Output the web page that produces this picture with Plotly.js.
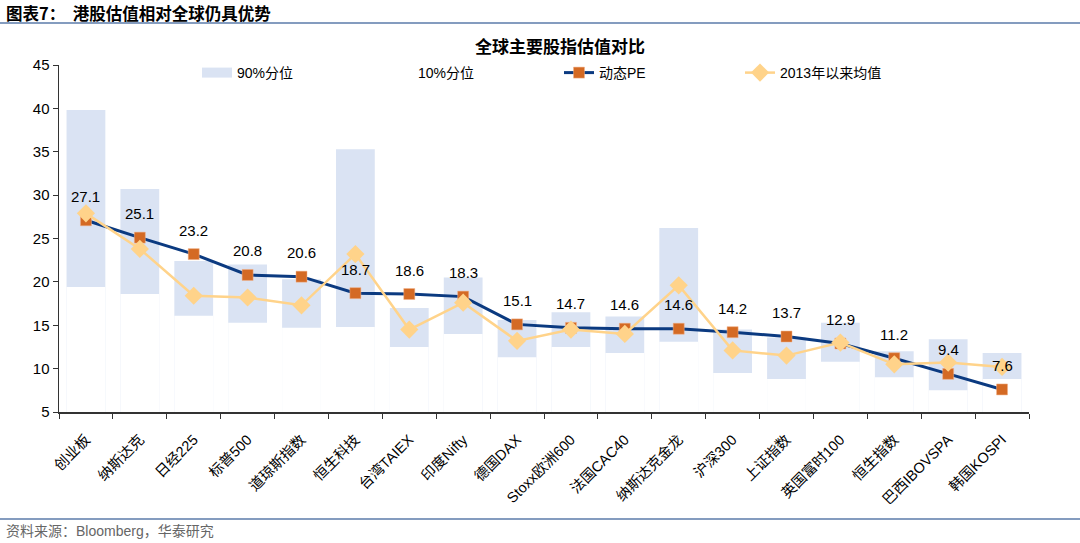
<!DOCTYPE html>
<html><head><meta charset="utf-8">
<script src="https://cdn.plot.ly/plotly-3.0.1.min.js"></script>
<style>html,body{margin:0;padding:0;background:#fff}#c{width:1080px;height:543px}</style>
</head><body><div id="c"></div>
<script>
const categories = ["创业板","纳斯达克","日经225","标普500","道琼斯指数","恒生科技","台湾TAIEX","印度Nifty","德国DAX","Stoxx欧洲600","法国CAC40","纳斯达克金龙","沪深300","上证指数","英国富时100","恒生指数","巴西IBOVSPA","韩国KOSPI"];
const p90 = [39.8,30.7,22.4,22.0,20.3,35.3,17.0,20.5,15.6,16.5,16.0,26.2,14.5,13.6,15.3,12.0,13.4,11.8];
const p10 = [19.4,18.6,16.1,15.3,14.7,14.8,12.5,14.0,11.3,12.5,11.8,13.1,9.5,8.8,10.8,9.0,7.5,8.8];
const pe = [27.1,25.1,23.2,20.8,20.6,18.7,18.6,18.3,15.1,14.7,14.6,14.6,14.2,13.7,12.9,11.2,9.4,7.6];
const avg2013 = [27.9,23.8,18.4,18.2,17.3,23.2,14.5,17.6,13.2,14.5,14.0,19.6,12.1,11.5,13.0,10.5,10.7,10.2];

const FONT = '"Liberation Sans", Arial, "Noto Sans CJK SC", sans-serif';
const L=59, R=1029, T=65, B=412, W=1080, H=543;
const px = x => (x - L)/(R - L);
const py = y => (B - y)/(B - T);
const BAR_COLOR = '#DAE3F3';

const traces = [
  {type:'bar', name:'90%分位', x:categories, y:p90, marker:{color:BAR_COLOR}, hoverinfo:'skip', showlegend:false},
  {type:'bar', name:'10%分位', x:categories, y:p10, marker:{color:'#FFFFFF'}, hoverinfo:'skip', showlegend:false},
  {type:'scatter', mode:'lines', name:'90%分位', x:[null], y:[null], line:{color:BAR_COLOR, width:14}},
  {type:'scatter', mode:'lines', name:'10%分位', x:[null], y:[null], line:{color:'#FFFFFF', width:14}},
  {type:'scatter', mode:'lines+markers', name:'动态PE', x:categories, y:pe,
   line:{color:'#0B3A80', width:3}, marker:{symbol:'square', size:11, color:'#D46A24', line:{color:'#F2B38A', width:0.5}}},
  {type:'scatter', mode:'lines+markers', name:'2013年以来均值', x:categories, y:avg2013,
   line:{color:'#FFD38A', width:2.5}, marker:{symbol:'diamond', size:14, color:'#FFD38A'}}
];

const annotations = pe.map((v,i)=>({x:categories[i], y:v, xref:'x', yref:'y', text:v.toFixed(1), showarrow:false, yshift:24, font:{family:FONT, size:15, color:'#000'}}));
annotations.push({xref:'paper', yref:'paper', x:px(4), y:py(13), xanchor:'left', yanchor:'middle', showarrow:false,
  text:'<b>图表7：  港股估值相对全球仍具优势</b>', font:{family:'"Noto Sans CJK SC", sans-serif', size:16.5, color:'#000'}});
annotations.push({xref:'paper', yref:'paper', x:px(560), y:py(46), xanchor:'center', yanchor:'middle', showarrow:false,
  text:'<b>全球主要股指估值对比</b>', font:{family:'"Noto Sans CJK SC", sans-serif', size:17, color:'#000'}});
annotations.push({xref:'paper', yref:'paper', x:px(4), y:py(531), xanchor:'left', yanchor:'middle', showarrow:false,
  text:'资料来源：Bloomberg，华泰研究', font:{family:FONT, size:14, color:'#666'}});

const layout = {
  width:W, height:H, margin:{l:L, r:W-R, t:T, b:H-B}, paper_bgcolor:'#fff', plot_bgcolor:'#fff',
  barmode:'overlay', bargap:0.28, showlegend:true,
  font:{family:FONT, size:14, color:'#000'},
  legend:{orientation:'h', x:px(197), y:py(73), xanchor:'left', yanchor:'middle', entrywidth:136, entrywidthmode:'pixels',
    traceorder:'normal', font:{family:FONT, size:14, color:'#000'}, bgcolor:'rgba(0,0,0,0)'},
  xaxis:{type:'category', tickson:'boundaries', ticks:'outside', ticklen:5, tickcolor:'#333', showline:true, linecolor:'#333', linewidth:1.5,
    tickangle:-45, ticklabelstandoff:12, tickfont:{family:FONT, size:14.5, color:'#000'}, showgrid:false, range:[-0.5,17.5], fixedrange:true},
  yaxis:{range:[5,45], dtick:5, tick0:5, ticks:'outside', ticklen:5, tickcolor:'#333', showline:true, linecolor:'#333', linewidth:1.5,
    showgrid:false, zeroline:false, tickfont:{family:FONT, size:15, color:'#000'}},
  annotations:annotations,
  shapes:[
    {type:'line', xref:'paper', yref:'paper', x0:px(0), x1:px(W), y0:py(23), y1:py(23), line:{color:'#5B7BAA', width:1.5}},
    {type:'line', xref:'paper', yref:'paper', x0:px(0), x1:px(W), y0:py(519), y1:py(519), line:{color:'#5B7BAA', width:1.5}}
  ]
};
Plotly.newPlot('c', traces, layout, {displayModeBar:false, staticPlot:true});
</script></body></html>
